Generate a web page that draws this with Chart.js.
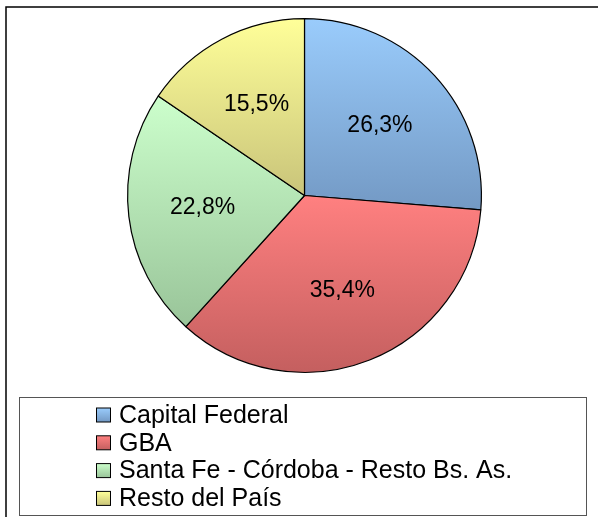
<!DOCTYPE html>
<html>
<head>
<meta charset="utf-8">
<script src="https://cdn.jsdelivr.net/npm/chart.js@4/dist/chart.umd.min.js"></script>
<style>
  html, body { margin: 0; padding: 0; background: #fff; }
  canvas { display: block; }
</style>
</head>
<body>
<canvas id="chart-pie" width="598" height="517"></canvas>
<script>
const categories = ['Capital Federal', 'GBA', 'Santa Fe - Córdoba - Resto Bs. As.', 'Resto del País'];
const shares     = [26.3, 35.4, 22.8, 15.5];

const topColors    = ['#9accfc', '#ff8080', '#ccffcc', '#ffff99'];
const bottomColors = ['#7399c4', '#c45f5f', '#99c499', '#c9c47a'];
const FONT = '"Liberation Sans", Arial, sans-serif';

const total = shares.reduce((a, b) => a + b, 0);

function sliceAngles(i) {
    let start = -Math.PI / 2;
    for (let k = 0; k < i; k++) start += shares[k] / total * Math.PI * 2;
    return [start, start + shares[i] / total * Math.PI * 2];
}

// vertical gradient across each slice's own extent
function sliceFill(ctx) {
    const i = ctx.dataIndex;
    const chart = ctx.chart;
    const area = chart.chartArea;
    if (!area) return topColors[i];
    const cx = (area.left + area.right) / 2;
    const cy = (area.top + area.bottom) / 2;
    const r  = Math.min(area.width, area.height) / 2;
    const [a0, a1] = sliceAngles(i);
    const ys = [cy, cy + r * Math.sin(a0), cy + r * Math.sin(a1)];
    for (const a of [-Math.PI / 2, Math.PI / 2, Math.PI * 1.5]) {
        if (a > a0 && a < a1) ys.push(cy + r * Math.sin(a));
    }
    const g = chart.ctx.createLinearGradient(0, Math.min(...ys), 0, Math.max(...ys));
    g.addColorStop(0, topColors[i]);
    g.addColorStop(1, bottomColors[i]);
    return g;
}

const decorations = {
    id: 'decorations',
    beforeDraw(chart) {
        const c = chart.ctx;
        c.save();
        c.fillStyle = '#fff';
        c.fillRect(0, 0, chart.width, chart.height);
        c.strokeStyle = '#000';
        c.lineWidth = 1.5;
        c.strokeRect(6, 7, 620, 540);
        c.restore();
    },
    afterDatasetsDraw(chart) {
        const c = chart.ctx;
        const arcs = chart.getDatasetMeta(0).data;
        c.save();
        c.fillStyle = '#000';
        c.font = `23px ${FONT}`;
        c.textAlign = 'center';
        c.textBaseline = 'middle';
        arcs.forEach((arc, i) => {
            const mid = (arc.startAngle + arc.endAngle) / 2;
            const d = arc.outerRadius * 0.58;
            const txt = shares[i].toFixed(1).replace('.', ',') + '%';
            c.fillText(txt, arc.x + Math.cos(mid) * d, arc.y + Math.sin(mid) * d);
        });

        // legend box
        c.strokeStyle = '#555';
        c.lineWidth = 1;
        c.strokeRect(19.5, 397.5, 567, 118);
        c.font = `25px ${FONT}`;
        c.textAlign = 'left';
        categories.forEach((name, i) => {
            const y = 415 + i * 27.8;
            const g = c.createLinearGradient(0, y - 7, 0, y + 7);
            g.addColorStop(0, topColors[i]);
            g.addColorStop(1, bottomColors[i]);
            c.fillStyle = g;
            c.fillRect(96.5, y - 7, 14, 14);
            c.strokeStyle = '#000';
            c.strokeRect(96.5, y - 7, 14, 14);
            c.fillStyle = '#000';
            c.fillText(name, 119, y + 1);
        });
        c.restore();
    },
};

new Chart(document.getElementById('chart-pie'), {
    type: 'pie',
    data: {
        labels: categories,
        datasets: [{
            data: shares,
            backgroundColor: sliceFill,
            borderColor: '#000',
            borderWidth: 1.2,
            borderAlign: 'center',
        }],
    },
    options: {
        responsive: false,
        animation: false,
        layout: { padding: { top: 18, bottom: 144, left: 127, right: 116 } },
        plugins: {
            legend:  { display: false },
            tooltip: { enabled: false },
        },
    },
    plugins: [decorations],
});
</script>
</body>
</html>
